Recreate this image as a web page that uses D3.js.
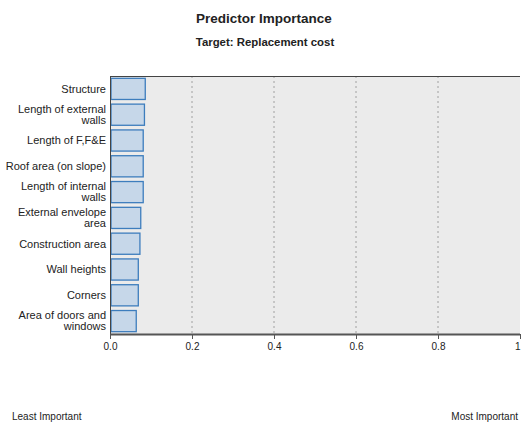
<!DOCTYPE html>
<html>
<head>
<meta charset="utf-8">
<script src="https://cdn.jsdelivr.net/npm/d3@7"></script>
<style>
  body { margin: 0; background: #fff; }
  svg text { font-family: "Liberation Sans", Arial, sans-serif; fill: #222; }
</style>
</head>
<body>
<div id="chart"></div>
<script>
const predictors = [
    ["Structure"],
    ["Length of external", "walls"],
    ["Length of F,F&E"],
    ["Roof area (on slope)"],
    ["Length of internal", "walls"],
    ["External envelope", "area"],
    ["Construction area"],
    ["Wall heights"],
    ["Corners"],
    ["Area of doors and", "windows"]
];
const importance = [0.086, 0.084, 0.081, 0.081, 0.081, 0.075, 0.073, 0.069, 0.069, 0.064];
const xTicks = [0, 0.2, 0.4, 0.6, 0.8, 1];
const xTickLabels = ["0.0", "0.2", "0.4", "0.6", "0.8", "1"];

const W = 522, H = 424;
const margin = { top: 76, right: 2, bottom: 90, left: 110 },
    width = W - margin.left - margin.right,
    height = H - margin.top - margin.bottom;

const root = d3.select("#chart")
    .append("svg")
    .attr("width", W)
    .attr("height", H);

root.append("text")
    .attr("x", 264)
    .attr("y", 23)
    .attr("text-anchor", "middle")
    .style("font-size", "13.5px")
    .style("font-weight", "bold")
    .text("Predictor Importance");

root.append("text")
    .attr("x", 265)
    .attr("y", 46)
    .attr("text-anchor", "middle")
    .style("font-size", "11.4px")
    .style("font-weight", "bold")
    .text("Target: Replacement cost");

const svg = root.append("g")
    .attr("transform", `translate(${margin.left},${margin.top})`);

const keys = predictors.map(d => d.join(" "));

const x = d3.scaleLinear().domain([0, 1]).range([0, width]);
const y = d3.scaleBand().domain(keys).range([0, height]).paddingInner(0.18).paddingOuter(0.09);

// plot background
svg.append("rect")
    .attr("width", width)
    .attr("height", height)
    .attr("fill", "#ebebeb");

// dotted grid
svg.selectAll(".grid")
    .data(xTicks.slice(1, -1))
    .join("line")
    .attr("x1", d => x(d))
    .attr("x2", d => x(d))
    .attr("y1", 0)
    .attr("y2", height)
    .style("stroke", "#a0a0a0")
    .style("stroke-dasharray", "2,3");

// top border
svg.append("line")
    .attr("x1", 0).attr("x2", width)
    .attr("y1", 0.5).attr("y2", 0.5)
    .style("stroke", "#444")
    .style("stroke-width", 1);

svg.selectAll(".bar")
    .data(importance)
    .join("rect")
    .attr("x", x(0) + 1)
    .attr("y", (d, i) => y(keys[i]))
    .attr("width", d => x(d) - 1)
    .attr("height", y.bandwidth())
    .attr("fill", "#c6d7e9")
    .attr("stroke", "#3d7dbd")
    .attr("stroke-width", 1.3);

// y axis
svg.append("line")
    .attr("x1", 0.5).attr("x2", 0.5)
    .attr("y1", 0).attr("y2", height)
    .style("stroke", "#444");

const labels = svg.selectAll(".ylab")
    .data(predictors)
    .join("text")
    .attr("text-anchor", "end")
    .style("font-size", "11px")
    .attr("transform", (d, i) => `translate(-4, ${y(keys[i]) + y.bandwidth() / 2})`);

labels.each(function (lines) {
    const t = d3.select(this);
    const n = lines.length;
    lines.forEach((ln, j) => {
        t.append("tspan")
            .attr("x", 0)
            .attr("y", (j - (n - 1) / 2) * 11)
            .attr("dy", "0.35em")
            .text(ln);
    });
});

// x axis
const xAxis = svg.append("g")
    .attr("transform", `translate(0, ${height})`)
    .call(d3.axisBottom(x).tickValues(xTicks).tickSize(5).tickFormat((d, i) => xTickLabels[i]));
xAxis.select(".domain").attr("stroke", "#555").attr("stroke-width", 2).attr("d", `M0,0.5H${width}`);
xAxis.selectAll(".tick line").attr("stroke", "#555");
xAxis.selectAll(".tick text")
    .style("font-size", "10px")
    .style("font-family", "'Liberation Sans', Arial, sans-serif")
    .attr("fill", "#222")
    .attr("dy", "0.75em");
xAxis.selectAll(".tick").filter(d => d === 1).select("text").attr("text-anchor", "end").attr("x", 0);

root.append("text")
    .attr("x", 12)
    .attr("y", 420)
    .style("font-size", "10px")
    .text("Least Important");

root.append("text")
    .attr("x", 518)
    .attr("y", 420)
    .attr("text-anchor", "end")
    .style("font-size", "10px")
    .text("Most Important");
</script>
</body>
</html>
